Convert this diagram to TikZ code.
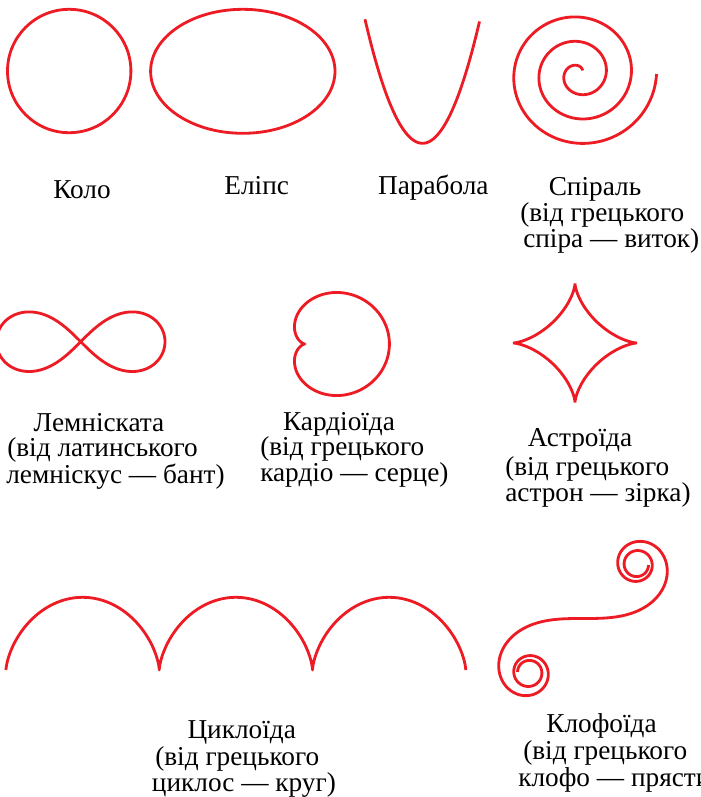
\documentclass[tikz,border=0pt]{standalone}
\usepackage{fontspec}
\setmainfont{Liberation Serif}
\definecolor{curvered}{RGB}{237,28,36}
\begin{document}
\begin{tikzpicture}[x=0.025cm, y=-0.025cm,
	curve/.style = {curvered, line width=2pt, line join=round},
	curvename/.style = {anchor=base, inner sep=0pt, font=\fontsize{19.4}{23}\selectfont},
	curvenote/.style = {anchor=base west, inner sep=0pt, font=\fontsize{19.4}{23}\selectfont}]
	\useasboundingbox (0,0) rectangle (700,797);
	% top row: circle, ellipse, parabola, spiral
	\draw[curve] (69.2,71) circle (61.7);
	\draw[curve] (242.8,71.3) ellipse (92.2 and 62);
	\draw[curve, domain=-57.5:57, samples=100, smooth] plot ({422.5+\x}, {143.3-0.0375*\x*\x});
	\draw[curve, domain=45:1080, samples=350, smooth] plot ({578.9+1.03*(8.05+0.068*(\x-90))*cos(\x)}, {74.05-(8.05+0.068*(\x-90))*sin(\x)});
	\node[curvename] (kolo) at (82,198) {Коло};
	\node[curvename] (elips) at (256.7,194.3) {Еліпс};
	\node[curvename] (parabola) at (433.3,194.3) {Парабола};
	\node[curvename] (spiral) at (595,195) {Спіраль};
	\node[curvenote] (spiral1) at (520,221.7) {(від грецького};
	\node[curvenote] (spiral2) at (523,247.3) {спіра — виток)};
	% middle row: lemniscate, cardioid, astroid
	\draw[curve, domain=0:360, samples=200, smooth] plot ({80.7+84.3*cos(\x)/(1+sin(\x)*sin(\x))}, {341.7-84.3*sin(\x)*cos(\x)/(1+sin(\x)*sin(\x))});
	\draw[curve, domain=0:360, samples=241] plot ({305+42.2*(1+cos(\x))*cos(\x)}, {344-0.94*42.2*(1+cos(\x))*sin(\x)});
	\draw[curve, line join=miter, domain=0:360, samples=241] plot ({575+62*cos(\x)*cos(\x)*cos(\x)}, {343-59.5*sin(\x)*sin(\x)*sin(\x)});
	\node[curvename] (lemn) at (99,431.7) {Лемніската};
	\node[curvenote] (lemn1) at (7,456.7) {(від латинського};
	\node[curvenote] (lemn2) at (6,483) {лемніскус — бант)};
	\node[curvename] (kard) at (339,430) {Кардіоїда};
	\node[curvenote] (kard1) at (260,455) {(від грецького};
	\node[curvenote] (kard2) at (260,481) {кардіо — серце)};
	\node[curvename] (astr) at (580,446.7) {Астроїда};
	\node[curvenote] (astr1) at (505,475) {(від грецького};
	\node[curvenote] (astr2) at (505,501.7) {астрон — зірка)};
	% bottom row: cycloid, clothoid
	\draw[curve, domain=0:18.8496, samples=300] plot ({6+24.39*(\x-sin(\x r))}, {670-36.35*(1-cos(\x r))});
	\coordinate (klofmid) at (583,618.5);
	\draw[curve] (klofmid) \foreach \i in {1,...,300} { -- ++({-90*((\i-0.5)*0.01)^2}:1.08) };
	\draw[curve] (klofmid) \foreach \i in {1,...,300} { -- ++({180-90*((\i-0.5)*0.01)^2}:1.08) };
	\node[curvename] (cykl) at (241.7,738.3) {Циклоїда};
	\node[curvenote] (cykl1) at (155,765) {(від грецького};
	\node[curvenote] (cykl2) at (151.7,791.7) {циклос — круг)};
	\node[curvename] (klof) at (601.5,732.7) {Клофоїда};
	\node[curvenote] (klof1) at (523,759) {(від грецького};
	\node[curvenote] (klof2) at (518,786) {клофо — прясти)};
\end{tikzpicture}
\end{document}
